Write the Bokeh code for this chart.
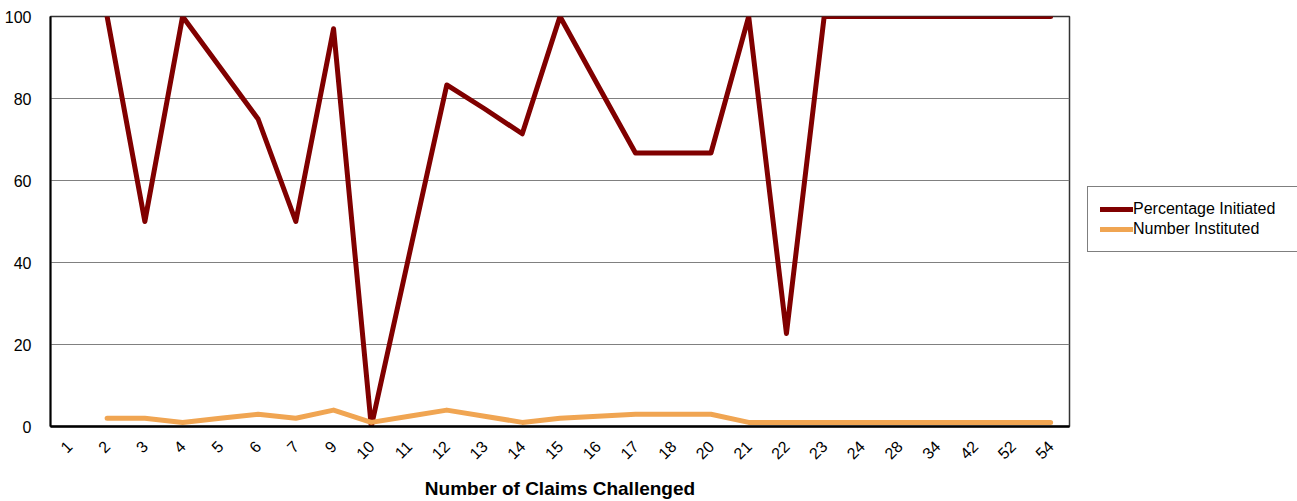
import math
from bokeh.plotting import figure
from bokeh.models import Legend, LegendItem, Range1d, FactorRange
from bokeh.embed import file_html
from bokeh.resources import INLINE

claims = ["1", "2", "3", "4", "5", "6", "7", "9", "10", "11", "12", "13", "14",
          "15", "16", "17", "18", "20", "21", "22", "23", "24", "28", "34", "42", "52", "54"]
nan = float("nan")
pct_initiated = [nan, 100, 50, 100, 87.5, 75, 50, 97, 0, 41.7, 83.3, 77.5, 71.4,
                 100, 83.3, 66.7, 66.7, 66.7, 100, 22.7, 100, 100, 100, 100, 100, 100, 100]
num_instituted = [nan, 2, 2, 1, 2, 3, 2, 4, 1, 2.5, 4, 2.5, 1,
                  2, 2.5, 3, 3, 3, 1, 1, 1, 1, 1, 1, 1, 1, 1]
y_ticks = [0, 20, 40, 60, 80, 100]

FONT = "Liberation Sans"

p = figure(x_range=FactorRange(factors=claims, range_padding=0),
           y_range=Range1d(0, 100),
           frame_width=1019, frame_height=410,
           min_border_left=50, min_border_top=16, min_border_right=228, min_border_bottom=60,
           output_backend="svg", toolbar_location=None)

r1 = p.line(claims, pct_initiated, line_color="#800000", line_width=5,
            line_join="round", line_cap="round")
r2 = p.line(claims, num_instituted, line_color="#F0A552", line_width=5,
            line_join="round", line_cap="round")

p.outline_line_color = "#333333"
p.outline_line_width = 1.5
p.background_fill_color = "white"
p.border_fill_color = "white"

p.xgrid.grid_line_color = None
p.ygrid.grid_line_color = "#808080"
p.ygrid.grid_line_width = 1.2
p.yaxis.ticker = y_ticks
p.yaxis.minor_tick_line_color = None
p.yaxis.major_tick_line_color = None
p.yaxis.axis_line_color = "black"
p.yaxis.axis_line_width = 2
p.yaxis.major_label_text_font = FONT
p.yaxis.major_label_text_font_size = "16px"
p.yaxis.major_label_text_color = "black"
p.yaxis.major_label_standoff = 13

p.xaxis.major_tick_line_color = None
p.xaxis.minor_tick_line_color = None
p.xaxis.axis_line_color = "black"
p.xaxis.axis_line_width = 2.5
p.xaxis.major_label_orientation = math.pi / 4
p.xaxis.major_label_text_font = FONT
p.xaxis.major_label_text_font_size = "16px"
p.xaxis.major_label_text_color = "black"
p.xaxis.major_label_standoff = 11
p.xaxis.axis_label = "Number of Claims Challenged"
p.xaxis.axis_label_text_font = FONT
p.xaxis.axis_label_text_font_style = "bold"
p.xaxis.axis_label_text_font_size = "19px"
p.xaxis.axis_label_text_color = "black"
p.xaxis.axis_label_standoff = 10

legend = Legend(items=[LegendItem(label="Percentage Initiated", renderers=[r1]),
                       LegendItem(label="Number Instituted", renderers=[r2])],
                location=(18, 174), orientation="vertical",
                glyph_width=33, glyph_height=20, label_height=20, label_width=152,
                label_standoff=0, spacing=0, padding=12, margin=0,
                label_text_font=FONT, label_text_font_size="16px",
                label_text_color="black",
                border_line_color="black", border_line_width=1,
                background_fill_color="white", background_fill_alpha=1)
p.add_layout(legend, "right")

open("out.html", "w").write(file_html(p, INLINE))
